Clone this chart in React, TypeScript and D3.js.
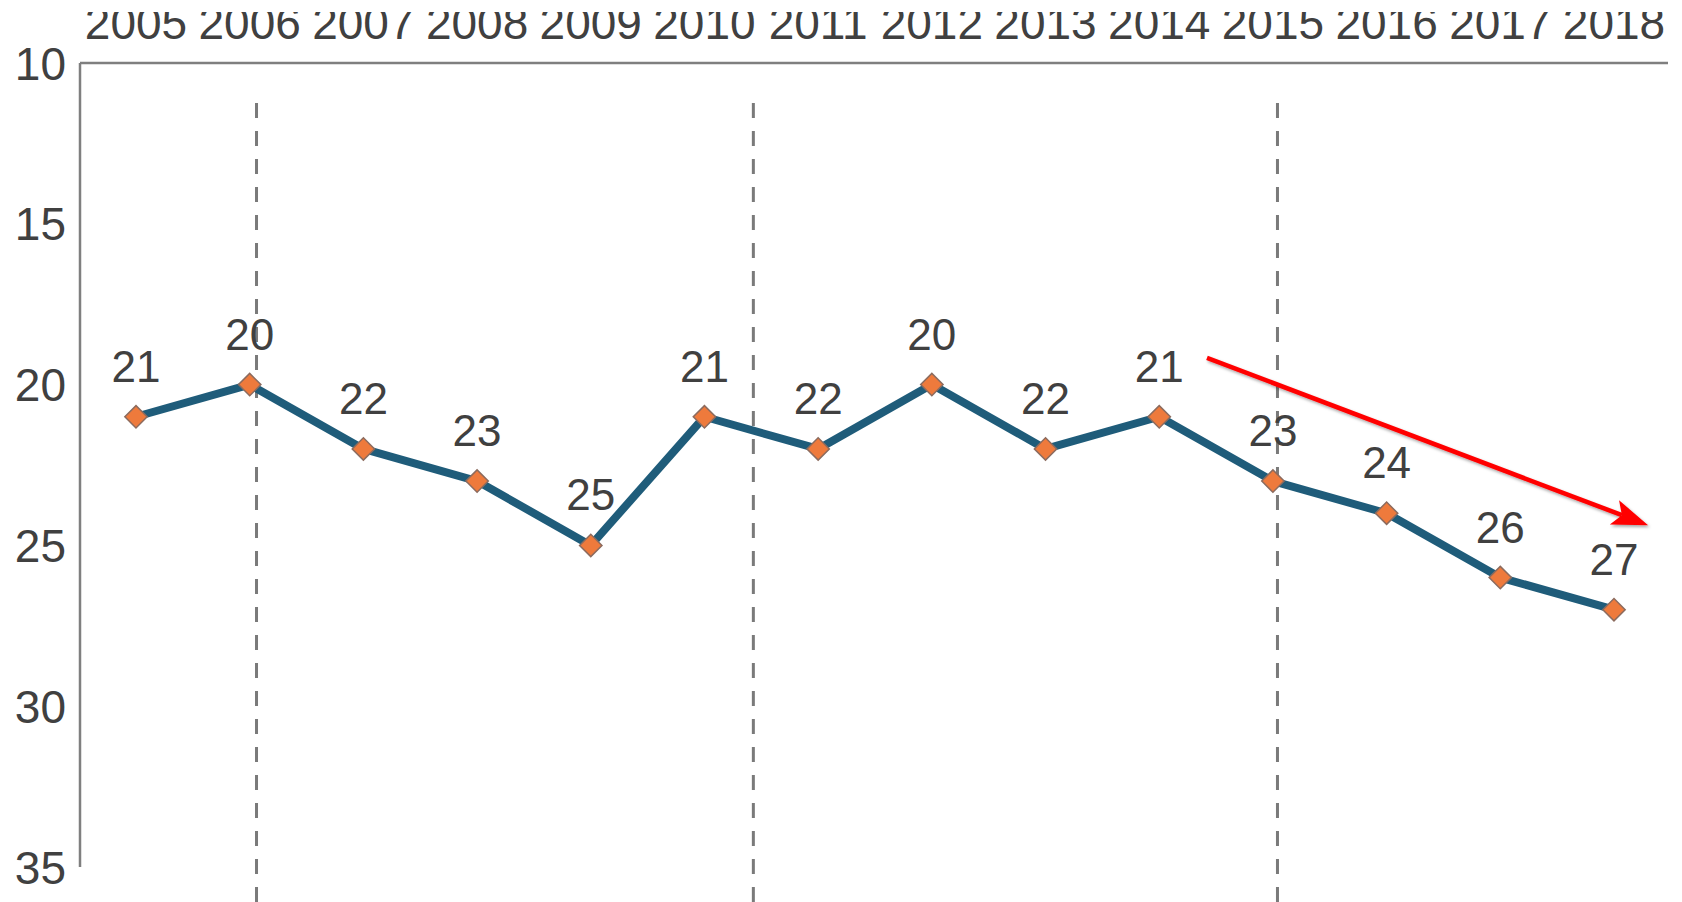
import * as d3 from "d3";
import { useEffect } from "react";

const years = ["2005","2006","2007","2008","2009","2010","2011","2012","2013","2014","2015","2016","2017","2018"];
const values = [21, 20, 22, 23, 25, 21, 22, 20, 22, 21, 23, 24, 26, 27];
const yTicks = [10, 15, 20, 25, 30, 35];
// dashed separators, in category-index units
const dividers = [1.06, 5.43, 10.04];
// trend arrow, start/end as [index, value]
const arrowFrom = [9.42, 19.17];
const arrowTo = [13.3, 24.37];

const W = 1682;
const H = 902;
const font = "'Liberation Sans', Arial, sans-serif";

export default function App() {
  useEffect(() => {
    document.body.style.margin = "0";
  }, []);

  const x = d3.scalePoint(years, [136, 1614]);
  const xi = d3.scaleLinear([0, years.length - 1], [136, 1614]);
  const y = d3.scaleLinear([10, 35], [63, 867]);

  const line = d3.line<number>()
    .x((d, i) => x(years[i])!)
    .y(d => y(d));

  const diamond = d3.symbol(d3.symbolSquare, 250)();

  // arrow geometry
  const sx = xi(arrowFrom[0]), sy = y(arrowFrom[1]);
  const tx = xi(arrowTo[0]), ty = y(arrowTo[1]);
  const len = Math.hypot(tx - sx, ty - sy);
  const ux = (tx - sx) / len, uy = (ty - sy) / len;
  const nx = -uy, ny = ux;
  const L = 36, hw = 13, notch = 8;
  const head = [
    [tx, ty],
    [tx - L * ux + hw * nx, ty - L * uy + hw * ny],
    [tx - (L - notch) * ux, ty - (L - notch) * uy],
    [tx - L * ux - hw * nx, ty - L * uy - hw * ny],
  ];

  return (
    <svg width={W} height={H} style={{ display: "block", background: "#fff" }} fontFamily={font}>
      <defs>
        <clipPath id="topclip">
          <rect x={0} y={12} width={W} height={H} />
        </clipPath>
        <filter id="shadow" x="-10%" y="-10%" width="120%" height="140%">
          <feDropShadow dx={1.5} dy={2} stdDeviation={1.5} floodColor="#000" floodOpacity={0.35} />
        </filter>
      </defs>

      {/* dashed separators */}
      {dividers.map((d, i) => (
        <line key={"dv" + i} x1={xi(d)} x2={xi(d)} y1={103} y2={H}
          stroke="#7a7a7a" strokeWidth={3} strokeDasharray="15 13" />
      ))}

      {/* axes */}
      <line x1={80} x2={1668} y1={y(10)} y2={y(10)} stroke="#7f7f7f" strokeWidth={2.5} />
      <line x1={80} x2={80} y1={y(10)} y2={y(35)} stroke="#7f7f7f" strokeWidth={2.5} />

      {/* y tick labels */}
      {yTicks.map(t => (
        <text key={"yt" + t} x={66} y={y(t)} dy="0.36em" textAnchor="end"
          fontSize={46} fill="#404040">{t}</text>
      ))}

      {/* year labels along the top, clipped like the original */}
      <g clipPath="url(#topclip)">
        {years.map(yr => (
          <text key={"xl" + yr} x={x(yr)} y={39} textAnchor="middle"
            fontSize={46} fill="#404040">{yr}</text>
        ))}
      </g>

      {/* series */}
      <path d={line(values)!} fill="none" stroke="#1f5c7a" strokeWidth={8} strokeLinejoin="round" />
      {values.map((v, i) => (
        <path key={"m" + i} d={diamond}
          transform={`translate(${x(years[i])},${y(v)}) rotate(45)`}
          fill="#ee7a3c" stroke="#8c6b5e" strokeWidth={1.5} />
      ))}
      {values.map((v, i) => (
        <text key={"vl" + i} x={x(years[i])} y={y(v) - 35} textAnchor="middle"
          fontSize={44} fill="#404040">{v}</text>
      ))}

      {/* trend arrow */}
      <g filter="url(#shadow)">
        <line x1={sx} y1={sy} x2={tx - (L - notch) * ux} y2={ty - (L - notch) * uy}
          stroke="#ff0000" strokeWidth={4.5} />
        <path d={"M" + head.map(p => p.join(",")).join("L") + "Z"} fill="#ff0000" />
      </g>
    </svg>
  );
}
